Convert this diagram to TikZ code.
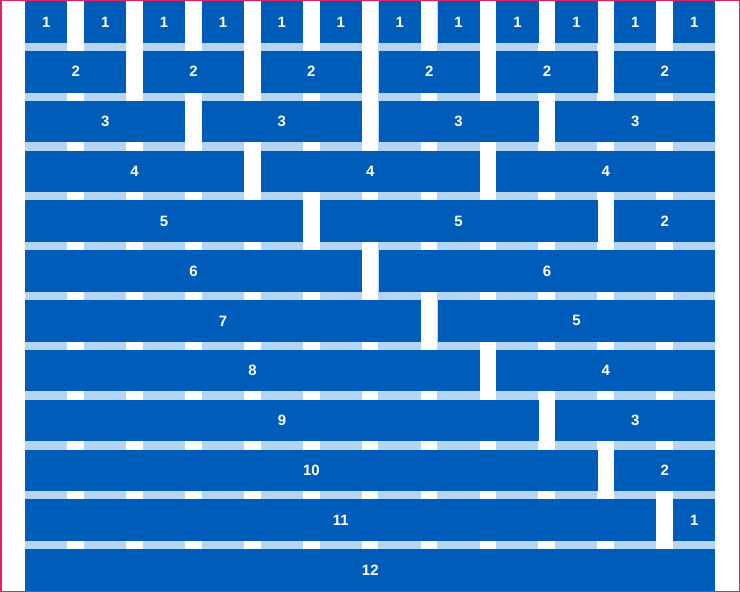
\documentclass[tikz,border=0pt]{standalone}
\usepackage{fontspec}
\setmainfont{Liberation Sans}
\definecolor{GridBlue}{RGB}{0,92,185}
\definecolor{GuideBlue}{RGB}{181,213,245}
\definecolor{FramePink}{RGB}{233,30,99}
\usepackage{tikz}
\usetikzlibrary{positioning}

\begin{document}
\begin{tikzpicture}[
    x=1bp, y=-1bp,
    blk/.style={rectangle, fill=GridBlue, text=white, inner sep=0pt, anchor=north west, minimum height=41.5bp, font=\fontsize{15}{15}\selectfont\bfseries},
    wide/.style={minimum width={(#1-1)*58.9bp+42.2bp}}
]
    \useasboundingbox (0,0) rectangle (740,592);
    % column guides
    \foreach \i in {0,...,11}
        \fill[GuideBlue] ({25+\i*58.9},1) rectangle ++(42.2,589.5);
    % row 1
    \node[blk, wide=1] (r1a) at (25, 1) {1};
    \node[blk, wide=1] (r1b) at (83.9, 1) {1};
    \node[blk, wide=1] (r1c) at (142.8, 1) {1};
    \node[blk, wide=1] (r1d) at (201.7, 1) {1};
    \node[blk, wide=1] (r1e) at (260.6, 1) {1};
    \node[blk, wide=1] (r1f) at (319.5, 1) {1};
    \node[blk, wide=1] (r1g) at (378.4, 1) {1};
    \node[blk, wide=1] (r1h) at (437.3, 1) {1};
    \node[blk, wide=1] (r1i) at (496.2, 1) {1};
    \node[blk, wide=1] (r1j) at (555.1, 1) {1};
    \node[blk, wide=1] (r1k) at (614, 1) {1};
    \node[blk, wide=1] (r1l) at (672.9, 1) {1};
    % row 2
    \node[blk, wide=2] (r2a) at (25, 50.82) {2};
    \node[blk, wide=2] (r2b) at (142.8, 50.82) {2};
    \node[blk, wide=2] (r2c) at (260.6, 50.82) {2};
    \node[blk, wide=2] (r2d) at (378.4, 50.82) {2};
    \node[blk, wide=2] (r2e) at (496.2, 50.82) {2};
    \node[blk, wide=2] (r2f) at (614, 50.82) {2};
    % row 3
    \node[blk, wide=3] (r3a) at (25, 100.64) {3};
    \node[blk, wide=3] (r3b) at (201.7, 100.64) {3};
    \node[blk, wide=3] (r3c) at (378.4, 100.64) {3};
    \node[blk, wide=3] (r3d) at (555.1, 100.64) {3};
    % row 4
    \node[blk, wide=4] (r4a) at (25, 150.46) {4};
    \node[blk, wide=4] (r4b) at (260.6, 150.46) {4};
    \node[blk, wide=4] (r4c) at (496.2, 150.46) {4};
    % row 5
    \node[blk, wide=5] (r5a) at (25, 200.28) {5};
    \node[blk, wide=5] (r5b) at (319.5, 200.28) {5};
    \node[blk, wide=2] (r5c) at (614, 200.28) {2};
    % row 6
    \node[blk, wide=6] (r6a) at (25, 250.1) {6};
    \node[blk, wide=6] (r6b) at (378.4, 250.1) {6};
    % row 7
    \node[blk, wide=7] (r7a) at (25, 299.92) {7};
    \node[blk, wide=5] (r7b) at (437.3, 299.92) {5};
    % row 8
    \node[blk, wide=8] (r8a) at (25, 349.74) {8};
    \node[blk, wide=4] (r8b) at (496.2, 349.74) {4};
    % row 9
    \node[blk, wide=9] (r9a) at (25, 399.56) {9};
    \node[blk, wide=3] (r9b) at (555.1, 399.56) {3};
    % row 10
    \node[blk, wide=10] (r10a) at (25, 449.38) {10};
    \node[blk, wide=2] (r10b) at (614, 449.38) {2};
    % row 11
    \node[blk, wide=11] (r11a) at (25, 499.2) {11};
    \node[blk, wide=1] (r11b) at (672.9, 499.2) {1};
    % row 12
    \node[blk, wide=12] (r12a) at (25, 549.02) {12};
    % frame
    \draw[FramePink, line width=1.5bp] (0.75,0.75) rectangle (739.25,591.25);
\end{tikzpicture}
\end{document}
